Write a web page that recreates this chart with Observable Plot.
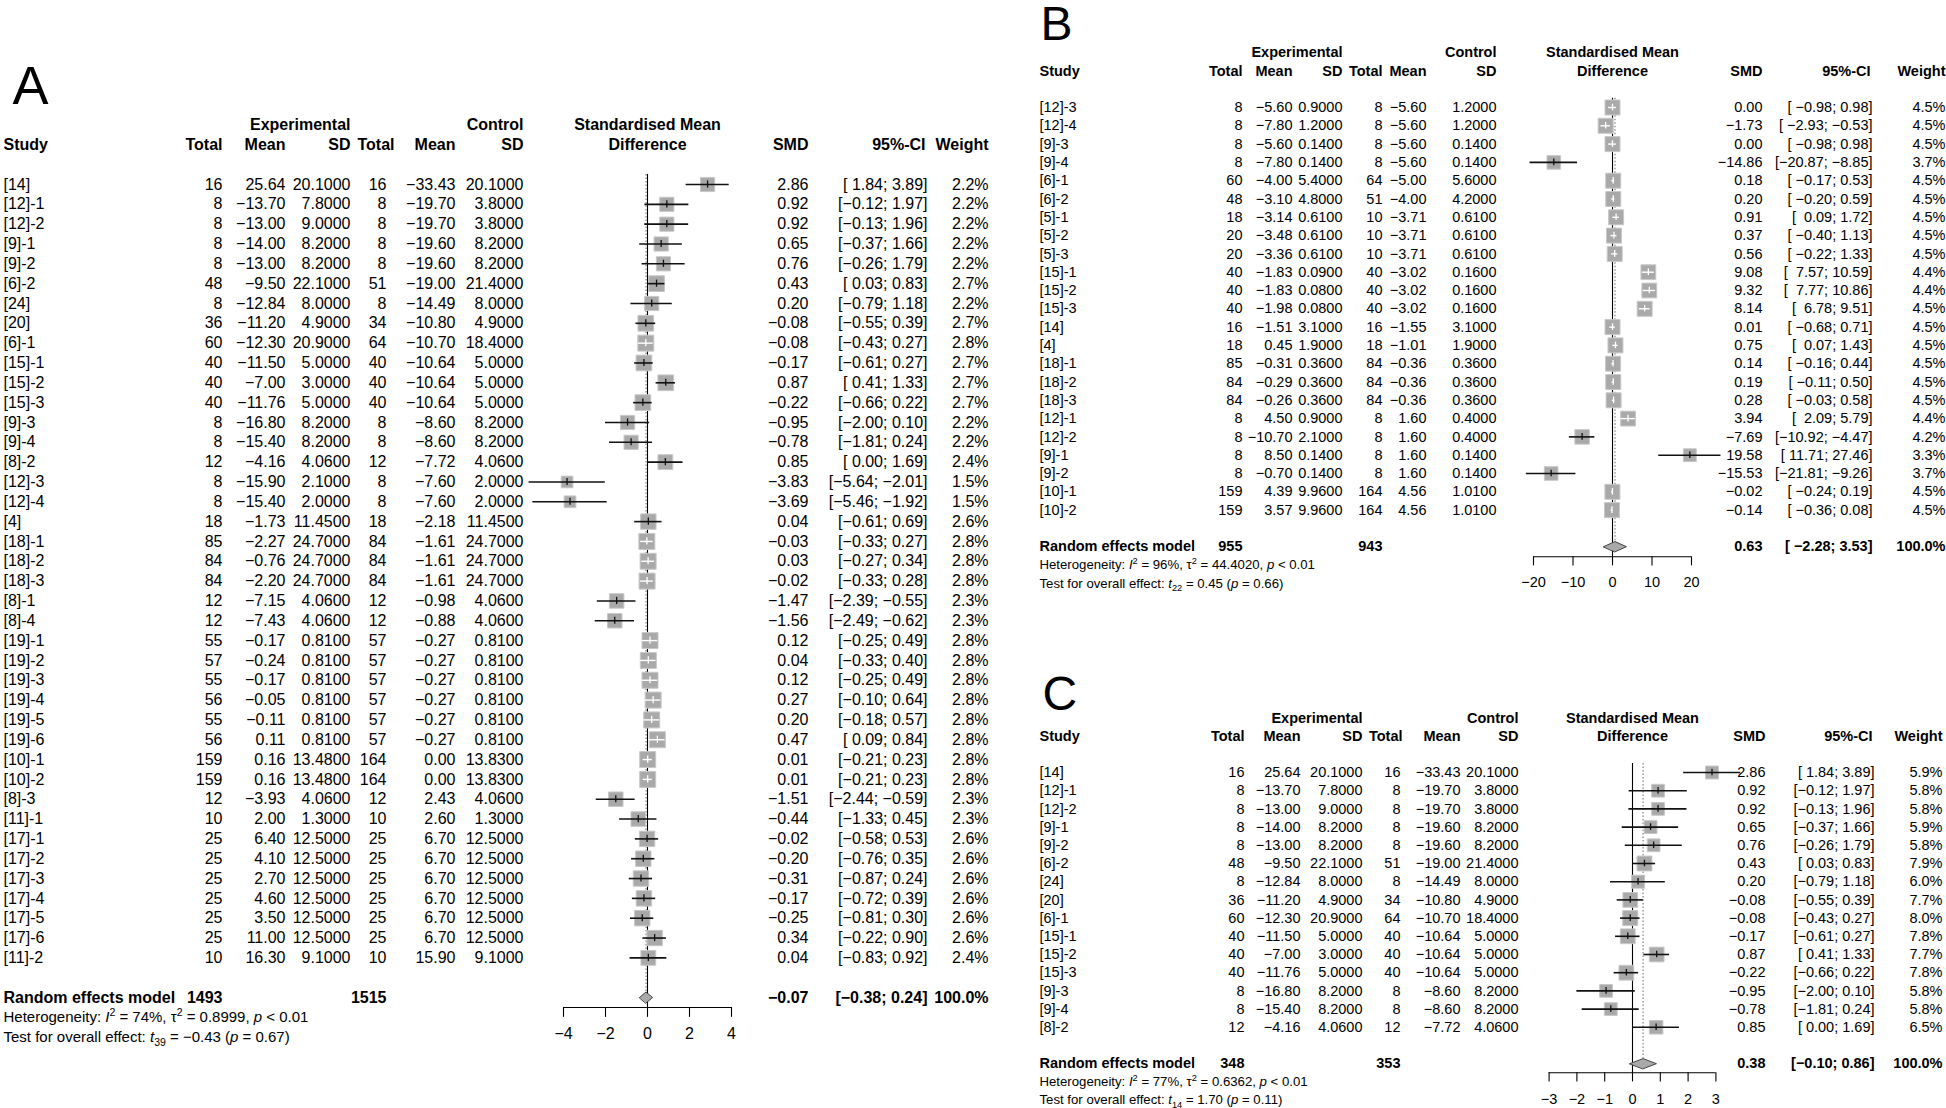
<!DOCTYPE html>
<html><head><meta charset="utf-8">
<script src="https://cdn.jsdelivr.net/npm/d3@7"></script>
<script src="https://cdn.jsdelivr.net/npm/@observablehq/plot@0.6"></script>
<style>
body{margin:0;background:#fff;}
#root{position:relative;width:1946px;height:1108px;overflow:hidden;background:#fff;}
.panel{position:absolute;}
svg text{white-space:pre;}
</style></head><body><div id="root"></div>
<script>
// ---------------- Panel A data ----------------
const studyA = ["[14]","[12]-1","[12]-2","[9]-1","[9]-2","[6]-2","[24]","[20]","[6]-1","[15]-1","[15]-2","[15]-3","[9]-3","[9]-4","[8]-2","[12]-3","[12]-4","[4]","[18]-1","[18]-2","[18]-3","[8]-1","[8]-4","[19]-1","[19]-2","[19]-3","[19]-4","[19]-5","[19]-6","[10]-1","[10]-2","[8]-3","[11]-1","[17]-1","[17]-2","[17]-3","[17]-4","[17]-5","[17]-6","[11]-2"];
const expTotalA = [16,8,8,8,8,48,8,36,60,40,40,40,8,8,12,8,8,18,85,84,84,12,12,55,57,55,56,55,56,159,159,12,10,25,25,25,25,25,25,10];
const expMeanA = [25.64,-13.70,-13.00,-14.00,-13.00,-9.50,-12.84,-11.20,-12.30,-11.50,-7.00,-11.76,-16.80,-15.40,-4.16,-15.90,-15.40,-1.73,-2.27,-0.76,-2.20,-7.15,-7.43,-0.17,-0.24,-0.17,-0.05,-0.11,0.11,0.16,0.16,-3.93,2.00,6.40,4.10,2.70,4.60,3.50,11.00,16.30];
const expSDA = [20.1,7.8,9.0,8.2,8.2,22.1,8.0,4.9,20.9,5.0,3.0,5.0,8.2,8.2,4.06,2.1,2.0,11.45,24.7,24.7,24.7,4.06,4.06,0.81,0.81,0.81,0.81,0.81,0.81,13.48,13.48,4.06,1.3,12.5,12.5,12.5,12.5,12.5,12.5,9.1];
const ctlTotalA = [16,8,8,8,8,51,8,34,64,40,40,40,8,8,12,8,8,18,84,84,84,12,12,57,57,57,57,57,57,164,164,12,10,25,25,25,25,25,25,10];
const ctlMeanA = [-33.43,-19.70,-19.70,-19.60,-19.60,-19.00,-14.49,-10.80,-10.70,-10.64,-10.64,-10.64,-8.60,-8.60,-7.72,-7.60,-7.60,-2.18,-1.61,-1.61,-1.61,-0.98,-0.88,-0.27,-0.27,-0.27,-0.27,-0.27,-0.27,0.00,0.00,2.43,2.60,6.70,6.70,6.70,6.70,6.70,6.70,15.90];
const ctlSDA = [20.1,3.8,3.8,8.2,8.2,21.4,8.0,4.9,18.4,5.0,5.0,5.0,8.2,8.2,4.06,2.0,2.0,11.45,24.7,24.7,24.7,4.06,4.06,0.81,0.81,0.81,0.81,0.81,0.81,13.83,13.83,4.06,1.3,12.5,12.5,12.5,12.5,12.5,12.5,9.1];
const smdA = [2.86,0.92,0.92,0.65,0.76,0.43,0.20,-0.08,-0.08,-0.17,0.87,-0.22,-0.95,-0.78,0.85,-3.83,-3.69,0.04,-0.03,0.03,-0.02,-1.47,-1.56,0.12,0.04,0.12,0.27,0.20,0.47,0.01,0.01,-1.51,-0.44,-0.02,-0.20,-0.31,-0.17,-0.25,0.34,0.04];
const lowerA = [1.84,-0.12,-0.13,-0.37,-0.26,0.03,-0.79,-0.55,-0.43,-0.61,0.41,-0.66,-2.00,-1.81,0.00,-5.64,-5.46,-0.61,-0.33,-0.27,-0.33,-2.39,-2.49,-0.25,-0.33,-0.25,-0.10,-0.18,0.09,-0.21,-0.21,-2.44,-1.33,-0.58,-0.76,-0.87,-0.72,-0.81,-0.22,-0.83];
const upperA = [3.89,1.97,1.96,1.66,1.79,0.83,1.18,0.39,0.27,0.27,1.33,0.22,0.10,0.24,1.69,-2.01,-1.92,0.69,0.27,0.34,0.28,-0.55,-0.62,0.49,0.40,0.49,0.64,0.57,0.84,0.23,0.23,-0.59,0.45,0.53,0.35,0.24,0.39,0.30,0.90,0.92];
const weightA = [2.2,2.2,2.2,2.2,2.2,2.7,2.2,2.7,2.8,2.7,2.7,2.7,2.2,2.2,2.4,1.5,1.5,2.6,2.8,2.8,2.8,2.3,2.3,2.8,2.8,2.8,2.8,2.8,2.8,2.8,2.8,2.3,2.3,2.6,2.6,2.6,2.6,2.6,2.6,2.4];
const modelA = {expTotal: 1493, ctlTotal: 1515, smd: -0.07, lower: -0.38, upper: 0.24, weight: 100.0};
const hetA = {I2: 74, tau2: "0.8999", p: "< 0.01", df: 39, t: -0.43, pTest: "0.67"};
const ticksA = [-4, -2, 0, 2, 4];

// ---------------- Panel B data ----------------
const studyB = ["[12]-3","[12]-4","[9]-3","[9]-4","[6]-1","[6]-2","[5]-1","[5]-2","[5]-3","[15]-1","[15]-2","[15]-3","[14]","[4]","[18]-1","[18]-2","[18]-3","[12]-1","[12]-2","[9]-1","[9]-2","[10]-1","[10]-2"];
const expTotalB = [8,8,8,8,60,48,18,20,20,40,40,40,16,18,85,84,84,8,8,8,8,159,159];
const expMeanB = [-5.60,-7.80,-5.60,-7.80,-4.00,-3.10,-3.14,-3.48,-3.36,-1.83,-1.83,-1.98,-1.51,0.45,-0.31,-0.29,-0.26,4.50,-10.70,8.50,-0.70,4.39,3.57];
const expSDB = [0.9,1.2,0.14,0.14,5.4,4.8,0.61,0.61,0.61,0.09,0.08,0.08,3.1,1.9,0.36,0.36,0.36,0.9,2.1,0.14,0.14,9.96,9.96];
const ctlTotalB = [8,8,8,8,64,51,10,10,10,40,40,40,16,18,84,84,84,8,8,8,8,164,164];
const ctlMeanB = [-5.60,-5.60,-5.60,-5.60,-5.00,-4.00,-3.71,-3.71,-3.71,-3.02,-3.02,-3.02,-1.55,-1.01,-0.36,-0.36,-0.36,1.60,1.60,1.60,1.60,4.56,4.56];
const ctlSDB = [1.2,1.2,0.14,0.14,5.6,4.2,0.61,0.61,0.61,0.16,0.16,0.16,3.1,1.9,0.36,0.36,0.36,0.4,0.4,0.14,0.14,1.01,1.01];
const smdB = [0.00,-1.73,0.00,-14.86,0.18,0.20,0.91,0.37,0.56,9.08,9.32,8.14,0.01,0.75,0.14,0.19,0.28,3.94,-7.69,19.58,-15.53,-0.02,-0.14];
const lowerB = [-0.98,-2.93,-0.98,-20.87,-0.17,-0.20,0.09,-0.40,-0.22,7.57,7.77,6.78,-0.68,0.07,-0.16,-0.11,-0.03,2.09,-10.92,11.71,-21.81,-0.24,-0.36];
const upperB = [0.98,-0.53,0.98,-8.85,0.53,0.59,1.72,1.13,1.33,10.59,10.86,9.51,0.71,1.43,0.44,0.50,0.58,5.79,-4.47,27.46,-9.26,0.19,0.08];
const weightB = [4.5,4.5,4.5,3.7,4.5,4.5,4.5,4.5,4.5,4.4,4.4,4.5,4.5,4.5,4.5,4.5,4.5,4.4,4.2,3.3,3.7,4.5,4.5];
const modelB = {expTotal: 955, ctlTotal: 943, smd: 0.63, lower: -2.28, upper: 3.53, weight: 100.0};
const hetB = {I2: 96, tau2: "44.4020", p: "< 0.01", df: 22, t: 0.45, pTest: "0.66"};
const ticksB = [-20, -10, 0, 10, 20];

// ---------------- Panel C data ----------------
const studyC = ["[14]","[12]-1","[12]-2","[9]-1","[9]-2","[6]-2","[24]","[20]","[6]-1","[15]-1","[15]-2","[15]-3","[9]-3","[9]-4","[8]-2"];
const expTotalC = [16,8,8,8,8,48,8,36,60,40,40,40,8,8,12];
const expMeanC = [25.64,-13.70,-13.00,-14.00,-13.00,-9.50,-12.84,-11.20,-12.30,-11.50,-7.00,-11.76,-16.80,-15.40,-4.16];
const expSDC = [20.1,7.8,9.0,8.2,8.2,22.1,8.0,4.9,20.9,5.0,3.0,5.0,8.2,8.2,4.06];
const ctlTotalC = [16,8,8,8,8,51,8,34,64,40,40,40,8,8,12];
const ctlMeanC = [-33.43,-19.70,-19.70,-19.60,-19.60,-19.00,-14.49,-10.80,-10.70,-10.64,-10.64,-10.64,-8.60,-8.60,-7.72];
const ctlSDC = [20.1,3.8,3.8,8.2,8.2,21.4,8.0,4.9,18.4,5.0,5.0,5.0,8.2,8.2,4.06];
const smdC = [2.86,0.92,0.92,0.65,0.76,0.43,0.20,-0.08,-0.08,-0.17,0.87,-0.22,-0.95,-0.78,0.85];
const lowerC = [1.84,-0.12,-0.13,-0.37,-0.26,0.03,-0.79,-0.55,-0.43,-0.61,0.41,-0.66,-2.00,-1.81,0.00];
const upperC = [3.89,1.97,1.96,1.66,1.79,0.83,1.18,0.39,0.27,0.27,1.33,0.22,0.10,0.24,1.69];
const weightC = [5.9,5.8,5.8,5.9,5.8,7.9,6.0,7.7,8.0,7.8,7.7,7.8,5.8,5.8,6.5];
const modelC = {expTotal: 348, ctlTotal: 353, smd: 0.38, lower: -0.10, upper: 0.86, weight: 100.0};
const hetC = {I2: 77, tau2: "0.6362", p: "< 0.01", df: 14, t: 1.70, pTest: "0.11"};
const ticksC = [-3, -2, -1, 0, 1, 2, 3];

// ---------------- helpers ----------------
const FONT = '"Liberation Sans", Arial, Helvetica, sans-serif';
const LETTER_FONT = '"Liberation Sans Narrow", "Arial Narrow", "Liberation Sans", Arial, sans-serif';
const MINUS = "\u2212";
const fmt = (v, d) => v.toFixed(d).replace("-", MINUS);
const ciText = (lo, hi, w) => "[" + fmt(lo, 2).padStart(w, " ") + "; " + fmt(hi, 2) + "]";

function forest(D, L) {
  const sideOf = w => L.sideMax * Math.sqrt(w / L.wMax);
  const rows = D.study.map((s, i) => ({
    i, study: s, et: D.et[i], em: D.em[i], esd: D.esd[i], ct: D.ct[i], cm: D.cm[i], csd: D.csd[i],
    smd: D.smd[i], lo: D.lo[i], hi: D.hi[i], wt: D.wt[i],
    inside: (D.hi[i] - D.lo[i]) * L.ppu < sideOf(D.wt[i])
  }));
  const M = D.model;
  const base = {fontFamily: FONT, fontSize: L.fs, fill: "#000"};
  const col = (fn, dx, extra = {}) => Plot.text(rows, {frameAnchor: "left", dx, y: "i", text: fn, textAnchor: "end", ...base, ...extra});
  const head = (t, dx, row, anchor) => Plot.text([t], {frameAnchor: "left", dx, y: () => row, text: d => d, textAnchor: anchor, ...base, fontWeight: "bold"});
  const mtext = (t, dx, anchor = "end") => Plot.text([t], {frameAnchor: "left", dx, y: () => L.modelRow, text: d => d, textAnchor: anchor, ...base, fontWeight: "bold"});
  const dh = L.diamondH;
  const diamond = [
    {x: M.lower, y: L.modelRow}, {x: M.smd, y: L.modelRow - dh},
    {x: M.upper, y: L.modelRow}, {x: M.smd, y: L.modelRow + dh}
  ];
  const ticks = D.ticks;
  const hetParts = [["Heterogeneity: ", ""], ["I", "i"], ["2", "sup"], [` = ${D.het.I2}%, `, ""], ["\u03c4", ""], ["2", "sup"], [` = ${D.het.tau2}, `, ""], ["p", "i"], [` ${D.het.p}`, ""]];
  const testParts = [["Test for overall effect: ", ""], ["t", "i"], [String(D.het.df), "sub"], [` = ${fmt(D.het.t, 2)} (`, ""], ["p", "i"], [` = ${D.het.pTest})`, ""]];
  const statText = (parts, row) => Plot.text([parts], {frameAnchor: "left", dx: L.study, y: () => row, text: p => p.map(q => q[0]).join(""), textAnchor: "start", fontFamily: FONT, fontSize: L.hetFs, fill: "#000"});

  const svg = Plot.plot({
    width: L.W, height: L.H,
    marginTop: 0, marginRight: 0, marginBottom: 0, marginLeft: 0,
    x: {type: "linear", domain: [0, 1], range: [L.zero, L.zero + L.ppu], axis: null},
    y: {type: "linear", domain: [0, 1], range: [L.y0, L.y0 + L.s], axis: null},
    r: {type: "sqrt", domain: [0, L.wMax], range: [0, L.sideMax / Math.sqrt(Math.PI)]},
    style: {fontFamily: FONT, background: "transparent", overflow: "visible"},
    marks: [
      // reference lines
      Plot.ruleX([0], {x: d => d, y1: () => -0.5, y2: () => L.axisRow, stroke: "#000", strokeWidth: 1.1}),
      Plot.ruleX([M.smd], {x: d => d, y1: () => -0.5, y2: () => L.modelRow - dh, stroke: "#777", strokeWidth: 1.1, strokeDasharray: "1.5,2"}),
      // squares
      Plot.dot(rows, {x: "smd", y: "i", r: "wt", symbol: "square", fill: "#a9a9a9", stroke: "#c8c8c8", strokeWidth: 1}),
      // CI lines and estimate ticks
      Plot.ruleY(rows.filter(d => !d.inside), {y: "i", x1: "lo", x2: "hi", stroke: "#111", strokeWidth: 1.6}),
      Plot.ruleY(rows.filter(d => d.inside), {y: "i", x1: "lo", x2: "hi", stroke: "#fff", strokeWidth: 1.4}),
      Plot.ruleX(rows.filter(d => !d.inside), {x: "smd", y1: d => d.i - 0.18, y2: d => d.i + 0.18, stroke: "#111", strokeWidth: 1.3}),
      Plot.ruleX(rows.filter(d => d.inside), {x: "smd", y1: d => d.i - 0.18, y2: d => d.i + 0.18, stroke: "#fff", strokeWidth: 1.3}),
      // diamond
      Plot.line(diamond, {x: "x", y: "y", curve: "linear-closed", fill: "#a9a9a9", stroke: "#444", strokeWidth: 1}),
      // axis
      Plot.ruleY([L.axisRow], {y: d => d, x1: () => ticks[0], x2: () => ticks[ticks.length - 1], stroke: "#000", strokeWidth: 1.1}),
      Plot.ruleX(ticks, {x: d => d, y1: () => L.axisRow, y2: () => L.axisRow + L.tickLen, stroke: "#000", strokeWidth: 1.1}),
      Plot.text(ticks, {x: d => d, y: () => L.labelRow, text: d => fmt(d, 0), ...base}),
      // header
      head("Experimental", L.esd, -3, "end"),
      head("Control", L.csd, -3, "end"),
      Plot.text(["Standardised Mean"], {x: () => 0, y: () => -3, text: d => d, ...base, fontWeight: "bold"}),
      head("Study", L.study, -2, "start"),
      head("Total", L.et, -2, "end"), head("Mean", L.em, -2, "end"), head("SD", L.esd, -2, "end"),
      head("Total", L.ctH, -2, "end"), head("Mean", L.cm, -2, "end"), head("SD", L.csd, -2, "end"),
      Plot.text(["Difference"], {x: () => 0, y: () => -2, text: d => d, ...base, fontWeight: "bold"}),
      head("SMD", L.smdX, -2, "end"), head("95%-CI", L.ciH, -2, "end"), head("Weight", L.wX, -2, "end"),
      // table body
      col(d => d.study, L.study, {textAnchor: "start"}),
      col(d => String(d.et), L.et),
      col(d => fmt(d.em, 2), L.em),
      col(d => fmt(d.esd, 4), L.esd),
      col(d => String(d.ct), L.ct),
      col(d => fmt(d.cm, 2), L.cm),
      col(d => fmt(d.csd, 4), L.csd),
      col(d => fmt(d.smd, 2), L.smdX),
      col(d => ciText(d.lo, d.hi, L.ciPad), L.ciX),
      col(d => d.wt.toFixed(1) + "%", L.wX),
      // model row
      mtext("Random effects model", L.study, "start"),
      mtext(String(M.expTotal), L.et),
      mtext(String(M.ctlTotal), L.ct),
      mtext(fmt(M.smd, 2), L.smdX),
      mtext(ciText(M.lower, M.upper, L.ciPad), L.ciX),
      mtext(M.weight.toFixed(1) + "%", L.wX),
      statText(hetParts, L.hetRow),
      statText(testParts, L.testRow),
      // panel letter
      Plot.text([L.letter], {frameAnchor: "top-left", dx: L.letterX, dy: L.letterY, lineAnchor: "middle", text: d => d, textAnchor: "start", fontFamily: LETTER_FONT, fontSize: L.letterFs, fill: "#000"})
    ]
  });
  svg.setAttribute("xml:space", "preserve");
  const rich = (prefix, parts) => {
    const t = d3.select(svg).selectAll("text").filter(function() { return (this.textContent || "").startsWith(prefix); });
    if (t.empty()) return;
    t.text(null);
    let shift = 0;
    for (const [s, st] of parts) {
      const sp = t.append("tspan").text(s);
      let target = 0;
      if (st === "i") sp.attr("font-style", "italic");
      if (st === "sup") { sp.attr("font-size", L.hetFs * 0.7); target = -L.hetFs * 0.4; }
      if (st === "sub") { sp.attr("font-size", L.hetFs * 0.7); target = L.hetFs * 0.25; }
      if (target !== shift) { sp.attr("dy", target - shift); shift = target; }
    }
  };
  rich("Heterogeneity:", hetParts);
  rich("Test for overall", testParts);
  return svg;
}

function place(svg, left, top) {
  const div = document.createElement("div");
  div.className = "panel";
  div.style.left = left + "px";
  div.style.top = top + "px";
  div.appendChild(svg);
  document.getElementById("root").appendChild(div);
}

// ---------------- panels ----------------
place(forest(
  {study: studyA, et: expTotalA, em: expMeanA, esd: expSDA, ct: ctlTotalA, cm: ctlMeanA, csd: ctlSDA,
   smd: smdA, lo: lowerA, hi: upperA, wt: weightA, model: modelA, het: hetA, ticks: ticksA},
  {W: 1000, H: 1108, y0: 184, s: 19.83, fs: 16, hetFs: 15, zero: 647, ppu: 21,
   study: 3, et: 222, em: 285, esd: 350, ct: 386, ctH: 394, cm: 455, csd: 523, smdX: 808, ciX: 927, ciH: 925, wX: 988, ciPad: 5,
   sideMax: 16, wMax: 2.8, diamondH: 0.28, modelRow: 41, hetRow: 42, testRow: 43,
   axisRow: 41.5, tickLen: 0.5, labelRow: 42.85,
   letter: "A", letterX: 12, letterY: 86, letterFs: 54}
), 0, 0);

place(forest(
  {study: studyB, et: expTotalB, em: expMeanB, esd: expSDB, ct: ctlTotalB, cm: ctlMeanB, csd: ctlSDB,
   smd: smdB, lo: lowerB, hi: upperB, wt: weightB, model: modelB, het: hetB, ticks: ticksB},
  {W: 946, H: 620, y0: 107, s: 18.3, fs: 14.5, hetFs: 13.2, zero: 612, ppu: 3.95,
   study: 39, et: 242, em: 292, esd: 342, ct: 382, ctH: 382, cm: 426, csd: 496, smdX: 762, ciX: 872, ciH: 870, wX: 945, ciPad: 6,
   sideMax: 15, wMax: 4.5, diamondH: 0.28, modelRow: 24, hetRow: 25, testRow: 26,
   axisRow: 24.55, tickLen: 0.5, labelRow: 25.95,
   letter: "B", letterX: 40, letterY: 24, letterFs: 48}
), 1000, 0);

place(forest(
  {study: studyC, et: expTotalC, em: expMeanC, esd: expSDC, ct: ctlTotalC, cm: ctlMeanC, csd: ctlSDC,
   smd: smdC, lo: lowerC, hi: upperC, wt: weightC, model: modelC, het: hetC, ticks: ticksC},
  {W: 946, H: 468, y0: 132, s: 18.2, fs: 14.5, hetFs: 13.2, zero: 632, ppu: 27.8,
   study: 39, et: 244, em: 300, esd: 362, ct: 400, ctH: 402, cm: 460, csd: 518, smdX: 765, ciX: 874, ciH: 872, wX: 942, ciPad: 5,
   sideMax: 15, wMax: 8.0, diamondH: 0.28, modelRow: 16, hetRow: 17, testRow: 18,
   axisRow: 16.5, tickLen: 0.5, labelRow: 17.95,
   letter: "C", letterX: 42, letterY: 54, letterFs: 48}
), 1000, 640);
</script></body></html>
